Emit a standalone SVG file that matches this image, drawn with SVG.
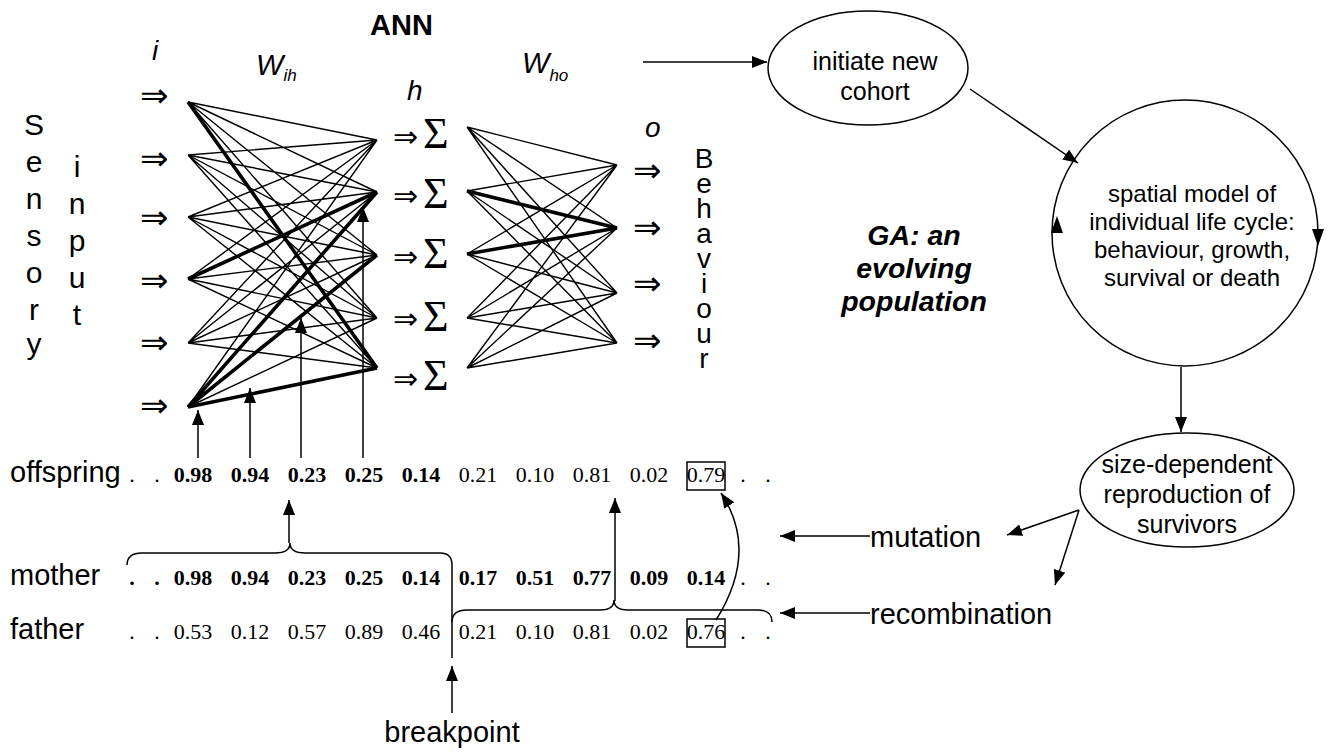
<svg xmlns="http://www.w3.org/2000/svg" width="1331" height="756" viewBox="0 0 1331 756">
  <defs>
    <marker id="arr" markerUnits="userSpaceOnUse" markerWidth="16" markerHeight="12" refX="15" refY="6" orient="auto">
      <path d="M0,0 L15,6 L0,12 z" fill="#000"/>
    </marker>
    <style>
      .sans { font-family: "Liberation Sans", Arial, sans-serif; fill: #000; }
      .num { font-family: "Liberation Serif", "Times New Roman", serif; font-size: 22px; fill: #000; }
      .b { font-weight: bold; }
      .ital { font-family: "Liberation Sans", Arial, sans-serif; font-style: italic; fill: #000; }
      .sym { font-family: "DejaVu Sans", sans-serif; fill: #000; }
      .sig { font-family: "Liberation Serif", "Times New Roman", serif; fill: #000; }
      .w { stroke: #000; stroke-width: 1.4; fill: none; }
      .wt { stroke: #000; stroke-width: 3.6; fill: none; }
      .ln { stroke: #000; stroke-width: 1.5; fill: none; }
      .lbl { font-size: 29px; }
      .vert { font-size: 30px; text-anchor: middle; }
      .upright { writing-mode: vertical-rl; text-orientation: upright; }
      .node { font-size: 25px; text-anchor: middle; }
    </style>
  </defs>

  <!-- Neural network -->
  <g id="ann">
    <text class="sans b" x="370" y="35" font-size="29">ANN</text>
    <text class="ital" x="152" y="60" font-size="28">i</text>
    <text class="ital" x="256" y="75" font-size="29">W<tspan font-size="17" dy="6">ih</tspan></text>
    <text class="ital" x="407" y="100" font-size="28">h</text>
    <text class="ital" x="522" y="73" font-size="29">W<tspan font-size="17" dy="8">ho</tspan></text>
    <text class="ital" x="645" y="137" font-size="28">o</text>

    <!-- Sensory input column, one letter per line -->
    <text class="sans vert"><tspan x="34" y="135">S</tspan><tspan x="34" y="172">e</tspan><tspan x="34" y="209">n</tspan><tspan x="34" y="246">s</tspan><tspan x="34" y="283">o</tspan><tspan x="34" y="320">r</tspan><tspan x="34" y="354">y</tspan></text>
    <text class="sans vert"><tspan x="77" y="177">i</tspan><tspan x="77" y="214">n</tspan><tspan x="77" y="251">p</tspan><tspan x="77" y="288">u</tspan><tspan x="77" y="325">t</tspan></text>

    <!-- Behaviour column, stacked upright -->
    <text class="sans upright" x="704" y="143" font-size="28" letter-spacing="-6">Behaviour</text>

    <!-- input arrows -->
    <g class="sym" font-size="34">
      <text x="140" y="107">⇒</text>
      <text x="140" y="170">⇒</text>
      <text x="140" y="229">⇒</text>
      <text x="140" y="292">⇒</text>
      <text x="140" y="354">⇒</text>
      <text x="140" y="417">⇒</text>
    </g>

    <!-- hidden units -->
    <g class="sym" font-size="30">
      <text x="393" y="147">⇒</text>
      <text x="393" y="206">⇒</text>
      <text x="393" y="267">⇒</text>
      <text x="393" y="329">⇒</text>
      <text x="393" y="389">⇒</text>
    </g>
    <g class="sig" font-size="44">
      <text x="423" y="148">Σ</text>
      <text x="423" y="208">Σ</text>
      <text x="423" y="268">Σ</text>
      <text x="423" y="331">Σ</text>
      <text x="423" y="390">Σ</text>
    </g>

    <!-- output arrows -->
    <g class="sym" font-size="34">
      <text x="633" y="182">⇒</text>
      <text x="633" y="239">⇒</text>
      <text x="633" y="295">⇒</text>
      <text x="633" y="352">⇒</text>
    </g>
  </g>

  <!-- weights input -> hidden -->
  <g id="weights-ih">
    <path class="w" d="M188,102L377,140M188,102L377,192M188,102L377,255M188,102L377,318
      M188,155L377,140M188,155L377,192M188,155L377,255M188,155L377,318M188,155L377,368
      M188,217L377,140M188,217L377,192M188,217L377,255M188,217L377,318M188,217L377,368
      M188,279L377,140M188,279L377,255M188,279L377,318M188,279L377,368
      M188,343L377,140M188,343L377,192M188,343L377,255M188,343L377,318M188,343L377,368
      M188,407L377,140M188,407L377,318"/>
    <path class="wt" d="M188,102L377,368M188,279L377,192M188,407L377,192M188,407L377,255M188,407L377,368"/>
  </g>

  <!-- weights hidden -> output -->
  <g id="weights-ho">
    <path class="w" d="M467,127L617,165M467,127L617,228M467,127L617,293M467,127L617,343
      M467,191L617,165M467,191L617,293M467,191L617,343
      M467,254L617,165M467,254L617,293M467,254L617,343
      M467,318L617,165M467,318L617,228M467,318L617,293M467,318L617,343
      M467,368L617,165M467,368L617,228M467,368L617,293M467,368L617,343"/>
    <path class="wt" d="M467,191L617,228M467,254L617,228"/>
  </g>

  <!-- chromosome rows -->
  <g id="offspring">
    <text class="sans lbl" x="10" y="482">offspring</text>
    <g class="num" text-anchor="middle">
      <text x="132" y="482">.</text><text x="157" y="482">.</text>
      <text class="b" x="193" y="482">0.98</text>
      <text class="b" x="250" y="482">0.94</text>
      <text class="b" x="307" y="482">0.23</text>
      <text class="b" x="364" y="482">0.25</text>
      <text class="b" x="421" y="482">0.14</text>
      <text x="478" y="482">0.21</text>
      <text x="535" y="482">0.10</text>
      <text x="592" y="482">0.81</text>
      <text x="649" y="482">0.02</text>
      <text x="706" y="482">0.79</text>
      <text x="743" y="482">.</text><text x="768" y="482">.</text>
    </g>
    <rect class="ln" x="687" y="462" width="38" height="28"/>
  </g>

  <g id="mother">
    <text class="sans lbl" x="10" y="585">mother</text>
    <g class="num b" text-anchor="middle">
      <text x="132" y="585">.</text><text x="157" y="585">.</text>
      <text x="193" y="585">0.98</text>
      <text x="250" y="585">0.94</text>
      <text x="307" y="585">0.23</text>
      <text x="364" y="585">0.25</text>
      <text x="421" y="585">0.14</text>
      <text x="478" y="585">0.17</text>
      <text x="535" y="585">0.51</text>
      <text x="592" y="585">0.77</text>
      <text x="649" y="585">0.09</text>
      <text x="706" y="585">0.14</text>
    </g>
    <g class="num" text-anchor="middle">
      <text x="743" y="585">.</text><text x="768" y="585">.</text>
    </g>
  </g>

  <g id="father">
    <text class="sans lbl" x="10" y="639">father</text>
    <g class="num" text-anchor="middle">
      <text x="132" y="639">.</text><text x="157" y="639">.</text>
      <text x="193" y="639">0.53</text>
      <text x="250" y="639">0.12</text>
      <text x="307" y="639">0.57</text>
      <text x="364" y="639">0.89</text>
      <text x="421" y="639">0.46</text>
      <text x="478" y="639">0.21</text>
      <text x="535" y="639">0.10</text>
      <text x="592" y="639">0.81</text>
      <text x="649" y="639">0.02</text>
      <text x="706" y="639">0.76</text>
      <text x="743" y="639">.</text><text x="768" y="639">.</text>
    </g>
    <rect class="ln" x="687" y="619" width="38" height="28"/>
  </g>

  <g id="breakpoint">
    <text class="sans lbl" x="452" y="742" text-anchor="middle">breakpoint</text>
  </g>

  <!-- GA cycle -->
  <g id="initiate">
    <ellipse class="ln" cx="868" cy="68" rx="100" ry="57"/>
    <text class="sans node" x="875" y="70">initiate new</text>
    <text class="sans node" x="875" y="100">cohort</text>
  </g>

  <g id="lifecycle">
    <circle class="ln" cx="1185" cy="233" r="133"/>
    <g class="sans" font-size="24" text-anchor="middle">
      <text x="1192" y="202">spatial model of</text>
      <text x="1192" y="230">individual life cycle:</text>
      <text x="1192" y="258">behaviour, growth,</text>
      <text x="1192" y="286">survival or death</text>
    </g>
    <path d="M1057,216 L1051,233 L1063,233 z" fill="#000"/>
    <path d="M1318,246 L1312,229 L1324,229 z" fill="#000"/>
  </g>

  <g id="reproduction">
    <ellipse class="ln" cx="1187" cy="490" rx="107" ry="57"/>
    <text class="sans node" x="1187" y="473">size-dependent</text>
    <text class="sans node" x="1187" y="503">reproduction of</text>
    <text class="sans node" x="1187" y="533">survivors</text>
  </g>

  <g id="ga-label">
    <g class="sans b" font-style="italic" font-size="28.5" text-anchor="middle">
      <text x="914" y="245">GA: an</text>
      <text x="914" y="278">evolving</text>
      <text x="914" y="311">population</text>
    </g>
  </g>

  <g id="operators">
    <text class="sans lbl" x="870" y="547">mutation</text>
    <text class="sans lbl" x="870" y="624">recombination</text>
  </g>

  <!-- connectors -->
  <g id="connectors">
    <line class="ln" x1="643" y1="62" x2="767" y2="62" marker-end="url(#arr)"/>
    <line class="ln" x1="970" y1="89" x2="1078" y2="163" marker-end="url(#arr)"/>
    <line class="ln" x1="1181" y1="367" x2="1181" y2="432" marker-end="url(#arr)"/>
    <line class="ln" x1="1079" y1="510" x2="1007" y2="535" marker-end="url(#arr)"/>
    <line class="ln" x1="1079" y1="510" x2="1055" y2="585" marker-end="url(#arr)"/>
    <line class="ln" x1="870" y1="536" x2="780" y2="536" marker-end="url(#arr)"/>
    <line class="ln" x1="870" y1="613" x2="780" y2="613" marker-end="url(#arr)"/>

    <!-- genes mapped onto weights -->
    <line class="ln" x1="198" y1="458" x2="198" y2="410" marker-end="url(#arr)"/>
    <line class="ln" x1="250" y1="458" x2="250" y2="388" marker-end="url(#arr)"/>
    <line class="ln" x1="301" y1="458" x2="301" y2="318" marker-end="url(#arr)"/>
    <line class="ln" x1="363" y1="458" x2="363" y2="207" marker-end="url(#arr)"/>

    <!-- crossover braces -->
    <path class="ln" d="M127,565 Q127,553 142,553 L275,553 Q290,553 290,543 Q290,553 305,553 L440,553 Q452,553 452,565 L452,658"/>
    <line class="ln" x1="289" y1="543" x2="289" y2="500" marker-end="url(#arr)"/>
    <path class="ln" d="M452,622 Q452,610 467,610 L600,610 Q614,610 614,600 Q614,610 628,610 L758,610 Q772,610 772,622"/>
    <line class="ln" x1="615" y1="601" x2="615" y2="498" marker-end="url(#arr)"/>
    <path class="ln" d="M716,620 C738,585 752,540 721,493" marker-end="url(#arr)"/>
    <line class="ln" x1="452" y1="713" x2="452" y2="666" marker-end="url(#arr)"/>
  </g>
</svg>
